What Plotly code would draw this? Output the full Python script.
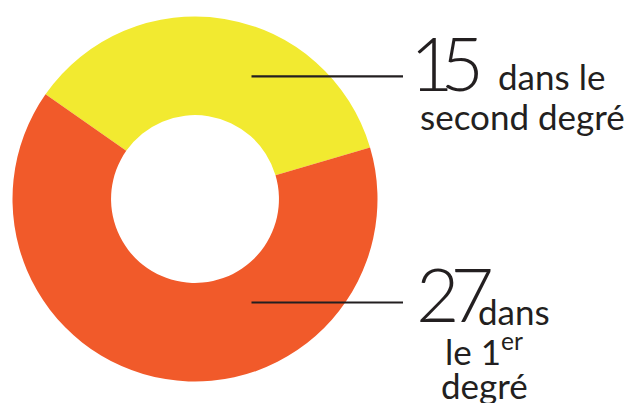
import plotly.graph_objects as go

W, H = 630, 403

labels = ["second degré", "1er degré"]
values = [15, 27]
colors = ["#F2EA30", "#F15A2A"]

big_numbers = ["15", "27"]
label_texts = [["dans le", "second degré"], ["dans", "le 1<sup>er</sup>", "degré"]]

def px(x):
    return x / W

def py(y):
    return 1 - y / H

# donut geometry (pixels)
cx, cy, r = 195, 199, 182.5

fig = go.Figure(
    go.Pie(
        labels=labels,
        values=values,
        marker=dict(colors=colors, line=dict(width=0)),
        hole=0.46,
        sort=False,
        direction="clockwise",
        rotation=305,
        textinfo="none",
        hoverinfo="label+value",
        showlegend=False,
        domain=dict(x=[px(cx - r), px(cx + r)], y=[py(cy + r), py(cy - r)]),
    )
)

ink = "#231f20"
num_font = dict(family="Lato, sans-serif", size=75, color=ink, weight=300)
txt_font = dict(family="Lato, Noto Sans, sans-serif", size=35, color=ink)

def squeeze(s, ls):
    return '<span style="letter-spacing:%dpx">' % ls + s + '</span>'

shapes = [
    dict(type="line", xref="paper", yref="paper", x0=px(251.5), x1=px(403), y0=py(76.3), y1=py(76.3),
         line=dict(color=ink, width=2.2)),
    dict(type="line", xref="paper", yref="paper", x0=px(251.5), x1=px(403), y0=py(302.5), y1=py(302.5),
         line=dict(color=ink, width=2.2)),
]

annotations = [
    dict(text=squeeze(big_numbers[0], -13), x=px(408), y=py(62), xanchor="left", yanchor="middle", font=num_font),
    dict(text=label_texts[0][0], x=px(496), y=py(76), xanchor="left", yanchor="middle", font=txt_font),
    dict(text=label_texts[0][1], x=px(418), y=py(116), xanchor="left", yanchor="middle", font=txt_font),
    dict(text=squeeze(big_numbers[1], -9), x=px(414), y=py(293), xanchor="left", yanchor="middle", font=num_font),
    dict(text=label_texts[1][0], x=px(476), y=py(311), xanchor="left", yanchor="middle", font=txt_font),
    dict(text=label_texts[1][1], x=px(484), y=py(349), xanchor="center", yanchor="middle", font=txt_font),
    dict(text=label_texts[1][2], x=px(484), y=py(385), xanchor="center", yanchor="middle", font=txt_font),
]
for a in annotations:
    a.update(xref="paper", yref="paper", showarrow=False)

fig.update_layout(
    width=W, height=H,
    margin=dict(l=0, r=0, t=0, b=0),
    paper_bgcolor="white", plot_bgcolor="white",
    shapes=shapes, annotations=annotations,
)

fig.write_html("out.html")
